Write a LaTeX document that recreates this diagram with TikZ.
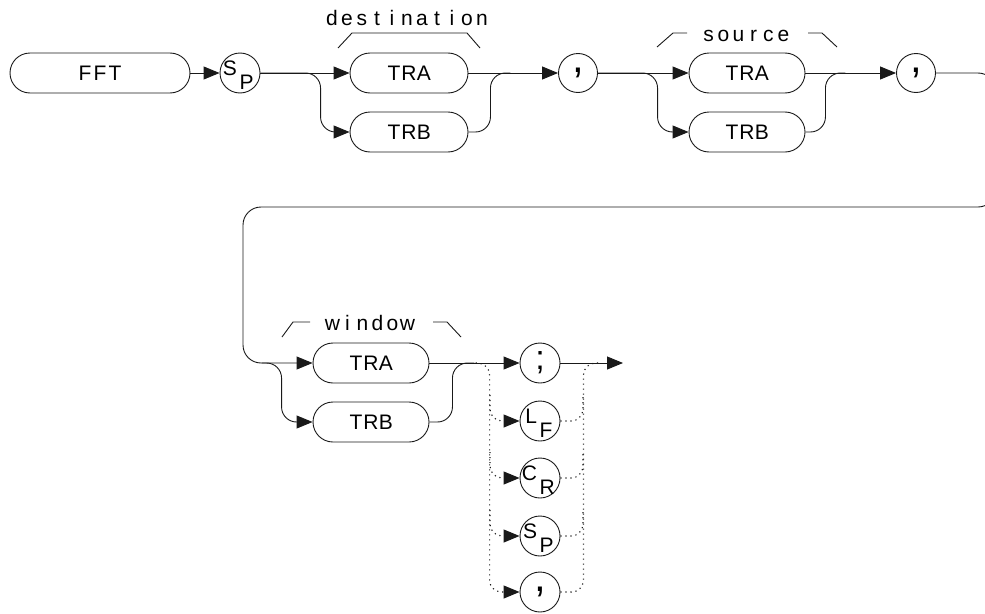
\documentclass[tikz,border=0pt]{standalone}
\usepackage{fontspec}
\setmainfont{Liberation Sans}
\usetikzlibrary{arrows.meta}
\makeatletter
\newcommand\hp[1]{\hp@loop#1\relax}
\def\hp@loop#1{\ifx#1\relax\else\makebox[15pt]{#1}\expandafter\hp@loop\fi}
\makeatother
\newcommand\subpair[2]{\smash{\makebox[0pt][r]{\raisebox{-2pt}{#1}\kern3pt}\makebox[0pt][l]{\kern-0.5pt\raisebox{-16pt}{#2}}}}
\begin{document}
\begin{tikzpicture}[x=1pt,y=-1pt,
  ln/.style={line width=0.9pt, draw=black!90},
  arr/.style={ln, -{Triangle[length=16pt,width=13pt]}},
  kw/.style={ln, draw, rectangle, rounded corners=20pt, minimum height=40pt, inner sep=0pt, font=\fontsize{21}{23}\selectfont},
  circ/.style={ln, draw, circle, minimum size=40pt, inner sep=0pt, font=\fontsize{21}{23}\selectfont},
  pcirc/.style={circ, font=\fontsize{42}{44}\selectfont},
  scirc/.style={circ, font=\fontsize{34}{36}\selectfont},
  lbl/.style={anchor=base, inner sep=0pt, font=\fontsize{21}{23}\selectfont},
  rc/.style={rounded corners=15pt},
  rcs/.style={rounded corners=12pt},
  dot/.style={line width=1.1pt, draw=black!90, dash pattern=on 1.2pt off 3.8pt},
  darr/.style={dot, -{Triangle[length=16pt,width=13pt]}}
]
\useasboundingbox (0,0) rectangle (985,613);
% nodes
\node[kw, minimum width=180pt] (fft) at (100,73) {\hp{FFT}};
\node[circ] (sp1) at (240,73) {\subpair{S}{P}};
\node[kw, minimum width=118pt] (dtra) at (409,73) {\hp{TRA}};
\node[kw, minimum width=118pt] (dtrb) at (409,132) {\hp{TRB}};
\node[pcirc, minimum size=39pt] (c1) at (578,73) {,};
\node[kw, minimum width=116pt] (stra) at (747,73) {\hp{TRA}};
\node[kw, minimum width=116pt] (strb) at (747,132) {\hp{TRB}};
\node[pcirc, minimum size=39pt] (c2) at (916,73) {,};
\node[kw, minimum width=116pt] (wtra) at (371,363) {\hp{TRA}};
\node[kw, minimum width=116pt] (wtrb) at (371,422) {\hp{TRB}};
\node[scirc] (semi) at (540,363) {;};
\node[circ] (lf) at (540,421) {\subpair{L}{F}};
\node[circ] (cr) at (540,478) {\subpair{C}{R}};
\node[circ] (sp2) at (540,536) {\subpair{S}{P}};
\node[pcirc] (c3) at (540,592) {,};
\coordinate (out) at (623,363);
\coordinate (retr) at (996,207);
\coordinate (retl) at (243,207);
% labels and brackets
\node[lbl] (dlab) at (407,25) {\hp{destination}};
\draw[ln] (338,48) -- (352,33) -- (467,33) -- (480,48);
\node[lbl] (slab) at (746,41.5) {\hp{source}};
\draw[ln] (657,47) -- (673,33) -- (687,33);
\draw[ln] (808,33) -- (822,33) -- (837,47);
\node[lbl] (wlab) at (370,330) {\hp{window}};
\draw[ln] (282,337) -- (293,322) -- (310,322);
\draw[ln] (433,322) -- (447,322) -- (461,337);
% top row
\draw[arr] (fft) -- (sp1);
\draw[arr] (sp1) -- (dtra);
\draw[arr, rc] (sp1.east) -| ([xshift=-29pt]dtrb.west) -- (dtrb.west);
\draw[ln, rc] (dtrb.east) -| ([xshift=22pt]dtra.east) -- ([xshift=42pt]dtra.east);
\draw[arr] (dtra) -- (c1);
\draw[arr] (c1) -- (stra);
\draw[arr, rc] (c1.east) -| ([xshift=-31pt]strb.west) -- (strb.west);
\draw[ln, rc] (strb.east) -| ([xshift=20pt]stra.east) -- ([xshift=40pt]stra.east);
\draw[arr] (stra) -- (c2);
% return line
\draw[arr, rounded corners=18pt] (c2.east) -| (retr) -- (retl) |- (wtra.west);
\draw[arr, rc] ([xshift=-51pt]wtra.west) -| ([xshift=-31pt]wtrb.west) -- (wtrb.west);
\draw[ln, rc] (wtrb.east) -| ([xshift=23pt]wtra.east) -- ([xshift=45pt]wtra.east);
\draw[arr] (wtra) -- (semi);
\draw[arr] (semi) -- (out);
% dotted alternatives
\draw[darr, rcs] ([xshift=-44pt]semi.west) -| ([xshift=-30pt]c3.west) -- (c3.west);
\draw[darr, rcs] (490,395) |- (lf.west);
\draw[darr, rcs] (490,452) |- (cr.west);
\draw[darr, rcs] (490,510) |- (sp2.west);
\draw[dot, rcs] (c3.east) -| ([xshift=23pt]semi.east) -- ([xshift=38pt]semi.east);
\draw[dot, rcs] (lf.east) -| (583,395);
\draw[dot, rcs] (cr.east) -| (583,452);
\draw[dot, rcs] (sp2.east) -| (583,510);
\end{tikzpicture}
\end{document}
